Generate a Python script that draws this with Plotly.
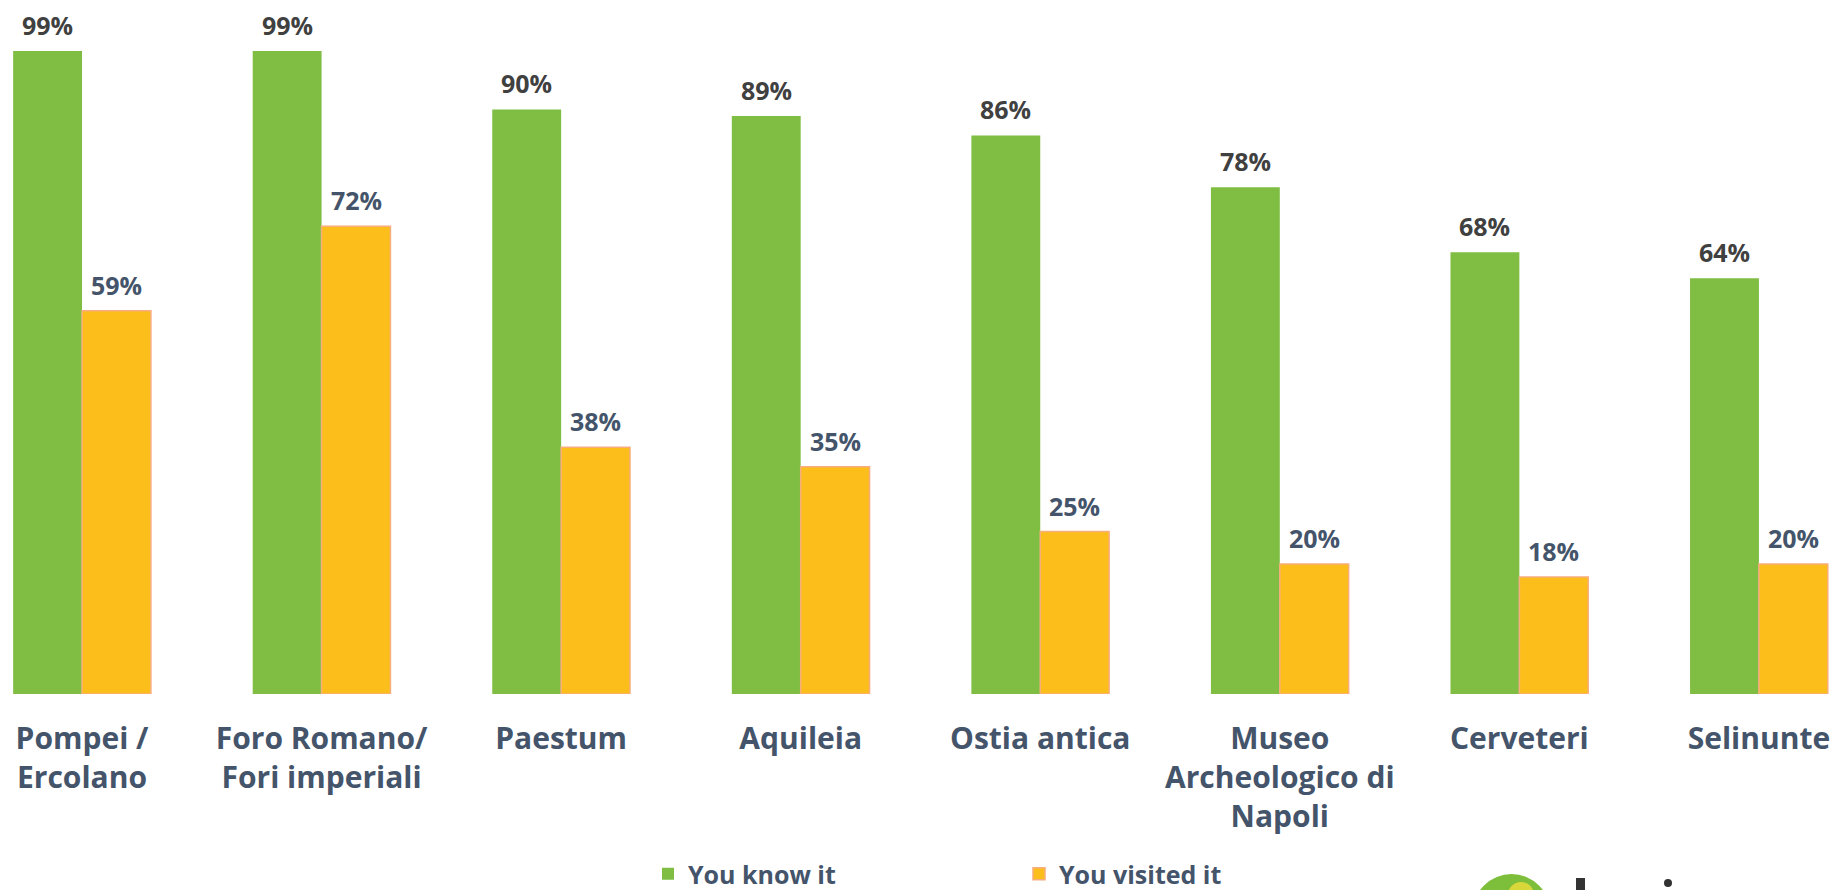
import plotly.graph_objects as go

# data
sites = ["Pompei /<br>Ercolano", "Foro Romano/<br>Fori imperiali", "Paestum", "Aquileia",
         "Ostia antica", "Museo<br>Archeologico di<br>Napoli", "Cerveteri", "Selinunte"]
know = [99, 99, 90, 89, 86, 78, 68, 64]
visited = [59, 72, 38, 35, 25, 20, 18, 20]

GREEN = "#7FBE43"
ORANGE = "#FCBE1B"
SLATE = "#44546A"
DARK = "#404040"

# the page body adds an 8px margin, so the figure is a bit smaller than the window
W, H = 1835, 882
BARGAP = 0.425
XRANGE = [-0.309, 7.351]
PLOT_H = 682
BASE = 686  # y pixel of the bar baseline inside the figure

fig = go.Figure()
fig.add_trace(go.Bar(x=sites, y=know, name="You know it",
                     marker=dict(color=GREEN, line=dict(width=0))))
fig.add_trace(go.Bar(x=sites, y=visited, name="You visited it",
                     marker=dict(color=ORANGE, line=dict(color="#F7AE7E", width=1.5))))

# value labels above each bar, shifted onto their bar in the group
cat_px = W / (XRANGE[1] - XRANGE[0])
half_bar = cat_px * (1 - BARGAP) / 4
for vals, shift, col in [(know, -half_bar, DARK), (visited, half_bar, SLATE)]:
    for s, v in zip(sites, vals):
        fig.add_annotation(x=s, y=v, text=f"{v}%", showarrow=False,
                           xshift=shift, yshift=7, yanchor="bottom",
                           font=dict(family="Open Sans", size=25, color=col, weight="bold"))


def py(pix):
    # figure pixel row -> paper y
    return (BASE - pix) / PLOT_H


# logo cut off at the bottom right
fig.add_shape(type="circle", xref="paper", yref="paper",
              x0=1465 / W, x1=1542 / W, y0=py(942), y1=py(866),
              fillcolor="#7DBE3A", line=dict(width=0), layer="above")
fig.add_shape(type="circle", xref="paper", yref="paper",
              x0=1500 / W, x1=1526 / W, y0=py(900), y1=py(874),
              fillcolor="#D9D83A", line=dict(width=0), layer="above")
fig.add_shape(type="rect", xref="paper", yref="paper",
              x0=1568 / W, x1=1577 / W, y0=py(882), y1=py(870),
              fillcolor="#333333", line=dict(width=0), layer="above")
fig.add_shape(type="circle", xref="paper", yref="paper",
              x0=1656 / W, x1=1664 / W, y0=py(879), y1=py(871),
              fillcolor="#333333", line=dict(width=0), layer="above")

fig.update_layout(
    width=W, height=H,
    margin=dict(l=0, r=0, t=BASE - PLOT_H, b=H - BASE, autoexpand=False),
    paper_bgcolor="white", plot_bgcolor="white",
    barmode="group", bargap=BARGAP, bargroupgap=0,
    showlegend=True,
    legend=dict(orientation="h", x=640 / W, y=py(866),
                xanchor="left", yanchor="middle",
                entrywidth=326, entrywidthmode="pixels", itemwidth=30,
                font=dict(family="Open Sans", size=25, color=SLATE, weight="bold")),
    xaxis=dict(range=XRANGE, showline=False, showgrid=False, ticks="",
               ticklabelstandoff=24,
               tickfont=dict(family="Open Sans", size=30, color=SLATE, weight="bold")),
    yaxis=dict(range=[0, 105], visible=False, showgrid=False),
)

fig.write_html("out.html")
